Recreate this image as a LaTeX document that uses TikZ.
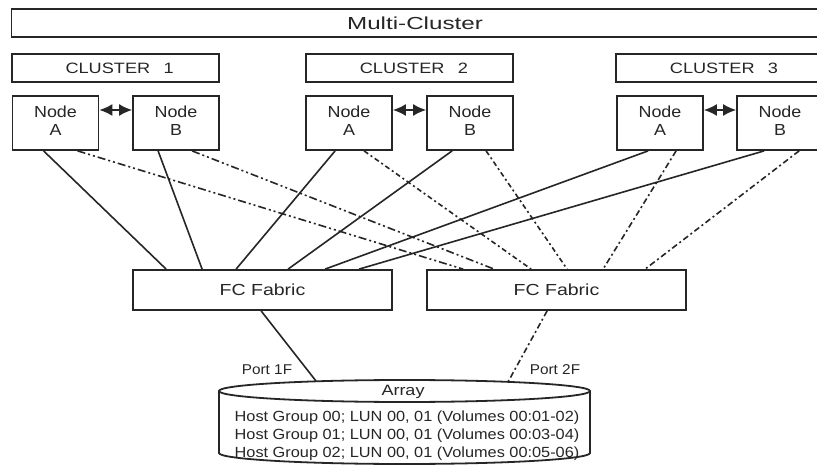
\documentclass[tikz,border=0pt]{standalone}
\usepackage{fontspec}
\setmainfont{Liberation Sans}
\usepackage{graphicx}
\usetikzlibrary{arrows.meta,calc}
\definecolor{ink}{HTML}{262626}
% horizontally widened text
\newcommand{\txtw}[2]{\scalebox{#1}[1]{#2}}

\begin{document}
\begin{tikzpicture}[x=1pt,y=-1pt,
  frame/.style={draw=ink,line width=1.8pt,inner sep=0pt,fill=white},
  nodebox/.style={frame,minimum width=86pt,minimum height=54pt},
  clbox/.style={frame,minimum width=207pt,minimum height=28pt},
  fabric/.style={frame,minimum width=259pt,minimum height=40pt},
  lbl/.style={inner sep=0pt,text=ink,align=center},
  nodetext/.style={lbl,font=\fontsize{16}{17.5}\selectfont},
  cltext/.style={lbl,font=\fontsize{15}{16}\selectfont},
  link/.style={draw=ink,line width=1.6pt},
  ddot/.style={link,dash pattern=on 8pt off 3pt on 2pt off 3pt on 2pt off 3pt},
  sdot/.style={link,dash pattern=on 5pt off 3pt on 2pt off 3pt},
  ldot/.style={link,dash pattern=on 6pt off 3pt on 2pt off 3pt},
  pair/.style={draw=ink,line width=1.6pt,{Latex[length=13pt,width=12pt]}-{Latex[length=13pt,width=12pt]}}
]
\path[fill=white,use as bounding box] (0,0) rectangle (817,465);

% top frame
\node[frame,minimum width=807.5pt,minimum height=28pt] (multi) at (415.25,23) {};
\node[lbl,font=\fontsize{17.4}{19}\selectfont] (multit) at (415,23.5) {\txtw{1.39}{Multi-Cluster}};

% cluster headers
\node[clbox] (C1) at (115.25,68) {};
\node[clbox] (C2) at (409.5,68) {};
\node[clbox] (C3) at (719.5,68) {};
\node[cltext] (C1t) at (119.6,68.5) {\txtw{1.21}{CLUSTER\hspace{11pt}1}};
\node[cltext] (C2t) at (413.9,68.5) {\txtw{1.21}{CLUSTER\hspace{11pt}2}};
\node[cltext] (C3t) at (724,68.5) {\txtw{1.21}{CLUSTER\hspace{11pt}3}};

% cluster nodes
\node[nodebox] (A1) at (55.5,123) {};
\node[nodebox] (B1) at (176,123) {};
\node[nodebox] (A2) at (349,123) {};
\node[nodebox] (B2) at (470,123) {};
\node[nodebox] (A3) at (660,123) {};
\node[nodebox] (B3) at (780,123) {};
\node[nodetext] (A1t) at (55.5,120.5) {\txtw{1.12}{Node}\\\txtw{1.12}{A}};
\node[nodetext] (B1t) at (176,120.5) {\txtw{1.12}{Node}\\\txtw{1.12}{B}};
\node[nodetext] (A2t) at (349,120.5) {\txtw{1.12}{Node}\\\txtw{1.12}{A}};
\node[nodetext] (B2t) at (470,120.5) {\txtw{1.12}{Node}\\\txtw{1.12}{B}};
\node[nodetext] (A3t) at (660,120.5) {\txtw{1.12}{Node}\\\txtw{1.12}{A}};
\node[nodetext] (B3t) at (780,120.5) {\txtw{1.12}{Node}\\\txtw{1.12}{B}};

% heartbeat links
\draw[pair] ([yshift=13pt]A1.east) -- ([yshift=13pt]B1.west);
\draw[pair] ([yshift=13pt]A2.east) -- ([yshift=13pt]B2.west);
\draw[pair] ([yshift=13pt]A3.east) -- ([yshift=13pt]B3.west);

% fabrics
\node[fabric] (F1) at (262.5,290) {};
\node[fabric] (F2) at (556.5,290) {};
\node[lbl,font=\fontsize{16}{17}\selectfont] (F1t) at (262.5,290) {\txtw{1.22}{FC Fabric}};
\node[lbl,font=\fontsize{16}{17}\selectfont] (F2t) at (556.5,290) {\txtw{1.22}{FC Fabric}};

% paths to fabric 1
\draw[link] ([xshift=32pt]A1.south west) -- ([xshift=34pt]F1.north west);
\draw[link] ([xshift=26pt]B1.south west) -- ([xshift=70pt]F1.north west);
\draw[link] ([xshift=30pt]A2.south west) -- ([xshift=104pt]F1.north west);
\draw[link] ([xshift=26pt]B2.south west) -- ([xshift=156pt]F1.north west);
\draw[link] ([xshift=32pt]A3.south west) -- ([xshift=193pt]F1.north west);
\draw[link] ([xshift=28pt]B3.south west) -- ([xshift=227pt]F1.north west);

% paths to fabric 2
\draw[ddot] ([xshift=66pt]A1.south west) -- ([xshift=37pt]F2.north west);
\draw[ddot] ([xshift=60pt]B1.south west) -- ([xshift=68pt]F2.north west);
\draw[sdot] ([xshift=59pt]A2.south west) -- ([xshift=105pt]F2.north west);
\draw[sdot] ([xshift=60pt]B2.south west) -- ([xshift=141pt]F2.north west);
\draw[ldot] ([xshift=60pt]A3.south west) -- ([xshift=177pt]F2.north west);
\draw[ldot] ([xshift=63pt]B3.south west) -- ([xshift=219pt]F2.north west);

% storage array
\draw[ink,line width=1.8pt,fill=white] (219,391) -- (219,453)
  arc[start angle=180,end angle=0,x radius=185.5,y radius=11] -- (590,391);
\draw[ink,line width=1.8pt] (404.5,391) ellipse [x radius=185.5,y radius=11];
\node[lbl,font=\fontsize{15}{16}\selectfont] (arr) at (403,391.5) {\txtw{1.2}{Array}};
\node[lbl,font=\fontsize{14.7}{18}\selectfont] (hosts) at (407,435.5)
  {\txtw{1.11}{Host Group 00; LUN 00, 01 (Volumes 00:01-02)}\\
   \txtw{1.11}{Host Group 01; LUN 00, 01 (Volumes 00:03-04)}\\
   \txtw{1.11}{Host Group 02; LUN 00, 01 (Volumes 00:05-06)}};
\coordinate (p1) at (316,381);
\coordinate (p2) at (508,382);

% array ports
\draw[link] ([xshift=129pt]F1.south west) -- (p1);
\draw[ldot] ([xshift=121pt]F2.south west) -- (p2);
\node[lbl,font=\fontsize{14.2}{16}\selectfont] (port1) at (267,370) {\txtw{1.08}{Port 1F}};
\node[lbl,font=\fontsize{14.2}{16}\selectfont] (port2) at (555,370) {\txtw{1.08}{Port 2F}};
\end{tikzpicture}
\end{document}
